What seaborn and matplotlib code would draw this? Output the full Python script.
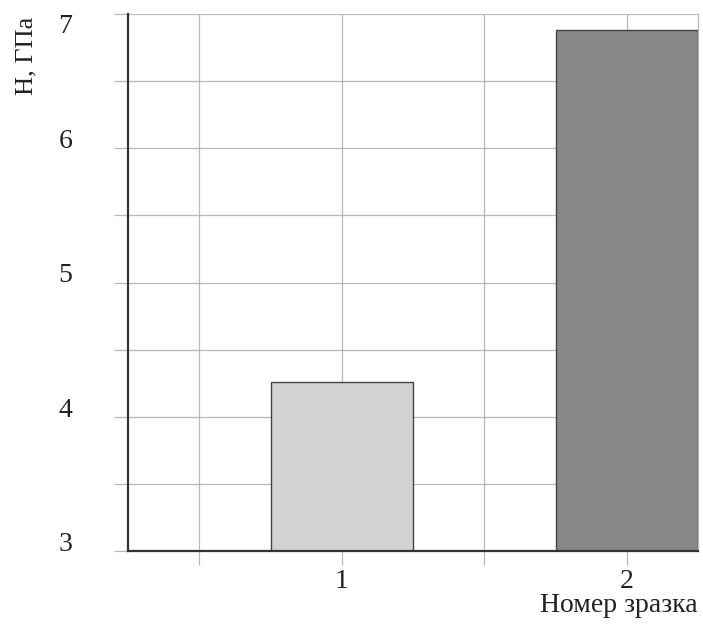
import matplotlib
matplotlib.use("Agg")
import matplotlib.pyplot as plt
import seaborn as sns
import pandas as pd
from matplotlib.ticker import MultipleLocator, FixedLocator

samples = ["1", "2"]
hardness = [4.26, 6.88]
bar_colors = ["#d3d2d3", "#878787"]
y_ticks = [3, 4, 5, 6, 7]

sns.set_theme(style="white")
plt.rcParams['font.family'] = ['Liberation Serif', 'DejaVu Serif']
plt.rcParams['xtick.bottom'] = True
plt.rcParams['ytick.left'] = True

df = pd.DataFrame({"sample": samples, "H": hardness})

fig = plt.figure(figsize=(7.03, 6.36), dpi=100)
ax = fig.add_axes([128/703, 1-551/636, (698-128)/703, (551-14)/636])

sns.barplot(data=df, x="sample", y="H", hue="sample", palette=bar_colors,
            width=0.5, edgecolor="#444444", linewidth=1.0, legend=False,
            ax=ax, zorder=3)

ax.set_xlim(-0.75, 1.25)
ax.set_ylim(3, 7)

ax.yaxis.set_major_locator(FixedLocator(y_ticks))
ax.yaxis.set_minor_locator(MultipleLocator(0.5))
ax.xaxis.set_major_locator(FixedLocator([0, 1]))
ax.xaxis.set_minor_locator(FixedLocator([-0.5, 0.5]))
ax.set_xticklabels(samples)

ax.grid(True, which="both", color="#b8b8b8", linewidth=0.9, zorder=0)
ax.set_axisbelow(True)

ax.tick_params(axis="both", which="both", length=10, width=0.9, color="#b8b8b8",
               direction="out", labelsize=20, labelcolor="#222222",
               bottom=True, left=True)
ax.tick_params(axis="y", which="major", pad=30)
ax.tick_params(axis="x", which="major", pad=3)

for lbl, v in zip(ax.get_yticklabels(), y_ticks):
    lbl.set_va("top" if v == max(y_ticks) else "baseline")

for s in ["left", "bottom"]:
    ax.spines[s].set_color("#333333")
    ax.spines[s].set_linewidth(1.6)
    ax.spines[s].set_zorder(4)
ax.spines["top"].set_visible(False)
ax.spines["right"].set_color("#b8b8b8")
ax.spines["right"].set_linewidth(0.9)

ax.set_xlabel("")
ax.set_ylabel("")
fig.text(698/703, 1-605/636, "Номер зразка", ha="right", va="center",
         fontsize=20, color="#222222")
fig.text(26/703, 1-17/636, "Н, ГПа", ha="center", va="top", rotation=90,
         fontsize=19, color="#222222")

fig.savefig("out.png", dpi=100)
